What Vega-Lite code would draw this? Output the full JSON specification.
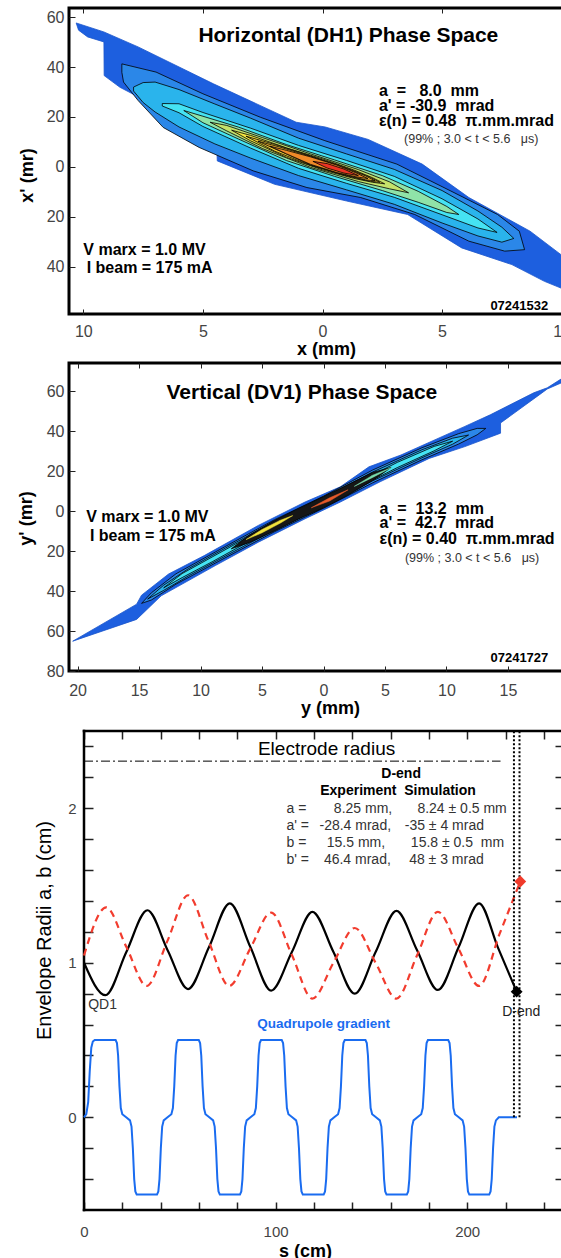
{
"$schema":"https://vega.github.io/schema/vega-lite/v6.json",
"background":"white",
"padding":{"left":15,"top":6,"right":0,"bottom":0},
"config":{"font":"Liberation Sans","axis":{"grid":false,"domain":false,"labelColor":"#444","tickColor":"#222","titleColor":"black"},"view":{"stroke":"black"}},
"datasets":{
"h":[
{"g":"L1","x":-10.3,"y":57.7},{"g":"L1","x":-9.14,"y":54.1},{"g":"L1","x":-7.71,"y":48.1},{"g":"L1","x":-4.56,"y":33.3},{"g":"L1","x":-1.1,"y":17.9},{"g":"L1","x":0.11,"y":16.0},{"g":"L1","x":1.91,"y":11.0},{"g":"L1","x":4.17,"y":1.1},{"g":"L1","x":6.12,"y":-12.3},{"g":"L1","x":8.68,"y":-25.8},{"g":"L1","x":10.15,"y":-36.5},{"g":"L1","x":10.8,"y":-40},{"g":"L1","x":10.8,"y":-52},{"g":"L1","x":10.15,"y":-49.3},{"g":"L1","x":9.28,"y":-45.9},{"g":"L1","x":7.92,"y":-39.2},{"g":"L1","x":5.82,"y":-32.5},{"g":"L1","x":3.56,"y":-19.1},{"g":"L1","x":1.01,"y":-13.7},{"g":"L1","x":-2.0,"y":-7.0},{"g":"L1","x":-4.4,"y":2.4},{"g":"L1","x":-4.41,"y":5.1},{"g":"L1","x":-6.06,"y":15.8},{"g":"L1","x":-7.41,"y":26.6},{"g":"L1","x":-8.47,"y":31.9},{"g":"L1","x":-9.13,"y":36.6},{"g":"L1","x":-9.14,"y":50.1},{"g":"L1","x":-9.82,"y":52.1},{"g":"L1","x":-10.2,"y":54.8},{"g":"L1","x":-10.3,"y":57.7},
{"g":"L2","x":-8.39,"y":41.3},{"g":"L2","x":-6.96,"y":38.0},{"g":"L2","x":-5.0,"y":29.3},{"g":"L2","x":-2.6,"y":19.9},{"g":"L2","x":0.1,"y":10.5},{"g":"L2","x":3.11,"y":1.1},{"g":"L2","x":5.37,"y":-9.7},{"g":"L2","x":7.32,"y":-19.1},{"g":"L2","x":8.23,"y":-25.8},{"g":"L2","x":8.45,"y":-33.2},{"g":"L2","x":7.62,"y":-33.8},{"g":"L2","x":6.12,"y":-29.8},{"g":"L2","x":3.86,"y":-19.1},{"g":"L2","x":1.6,"y":-12.3},{"g":"L2","x":-0.65,"y":-8.3},{"g":"L2","x":-2.9,"y":-1.6},{"g":"L2","x":-5.16,"y":7.8},{"g":"L2","x":-6.66,"y":15.8},{"g":"L2","x":-7.71,"y":26.6},{"g":"L2","x":-8.32,"y":34.0},{"g":"L2","x":-8.39,"y":37.9},{"g":"L2","x":-8.39,"y":41.3},
{"g":"L3","x":-7.9,"y":32.0},{"g":"L3","x":-7.5,"y":33.8},{"g":"L3","x":-7,"y":34},{"g":"L3","x":-6,"y":31},{"g":"L3","x":-4.5,"y":25.2},{"g":"L3","x":-3,"y":19.5},{"g":"L3","x":-1,"y":11.5},{"g":"L3","x":1,"y":5.2},{"g":"L3","x":3,"y":-1},{"g":"L3","x":5,"y":-9.5},{"g":"L3","x":6.5,"y":-17.7},{"g":"L3","x":7.5,"y":-24.2},{"g":"L3","x":8,"y":-28.7},{"g":"L3","x":7.5,"y":-30.2},{"g":"L3","x":6.5,"y":-27.7},{"g":"L3","x":5,"y":-22.5},{"g":"L3","x":3,"y":-15},{"g":"L3","x":1,"y":-9.2},{"g":"L3","x":-1,"y":-3.5},{"g":"L3","x":-3,"y":3.5},{"g":"L3","x":-4.5,"y":9.2},{"g":"L3","x":-6,"y":16},{"g":"L3","x":-7,"y":22},{"g":"L3","x":-7.5,"y":25.8},{"g":"L3","x":-7.9,"y":30.4},{"g":"L3","x":-7.9,"y":32.0},
{"g":"L4","x":-6.7,"y":25.4},{"g":"L4","x":-6,"y":25.3},{"g":"L4","x":-5,"y":21.8},{"g":"L4","x":-3,"y":15.5},{"g":"L4","x":-1,"y":8.6},{"g":"L4","x":1,"y":2.6},{"g":"L4","x":3,"y":-3.8},{"g":"L4","x":5,"y":-12.8},{"g":"L4","x":6.5,"y":-20.9},{"g":"L4","x":7.3,"y":-26.3},{"g":"L4","x":6.5,"y":-24.5},{"g":"L4","x":5,"y":-19.2},{"g":"L4","x":3,"y":-12.2},{"g":"L4","x":1,"y":-6.6},{"g":"L4","x":-1,"y":-0.6},{"g":"L4","x":-3,"y":7.5},{"g":"L4","x":-5,"y":16.2},{"g":"L4","x":-6,"y":21.7},{"g":"L4","x":-6.7,"y":24.4},{"g":"L4","x":-6.7,"y":25.4},
{"g":"L5","x":-5.8,"y":22.6},{"g":"L5","x":-5,"y":20.3},{"g":"L5","x":-3.5,"y":15.9},{"g":"L5","x":-1.5,"y":8.9},{"g":"L5","x":0.5,"y":2.8},{"g":"L5","x":2.5,"y":-3.5},{"g":"L5","x":4,"y":-9.8},{"g":"L5","x":5.2,"y":-15.9},{"g":"L5","x":5.7,"y":-19.1},{"g":"L5","x":5.2,"y":-18.3},{"g":"L5","x":4,"y":-14.2},{"g":"L5","x":2.5,"y":-9.5},{"g":"L5","x":0.5,"y":-3.8},{"g":"L5","x":-1.5,"y":2.5},{"g":"L5","x":-3.5,"y":11.1},{"g":"L5","x":-5,"y":17.7},{"g":"L5","x":-5.8,"y":22.6},
{"g":"L6","x":-4.7,"y":17.9},{"g":"L6","x":-4,"y":16.6},{"g":"L6","x":-2.5,"y":11.7},{"g":"L6","x":-0.5,"y":5.2},{"g":"L6","x":1.5,"y":-1.1},{"g":"L6","x":2.8,"y":-6.0},{"g":"L6","x":3.6,"y":-10.4},{"g":"L6","x":2.8,"y":-8.8},{"g":"L6","x":1.5,"y":-5.9},{"g":"L6","x":-0.5,"y":-0.2},{"g":"L6","x":-2.5,"y":7.3},{"g":"L6","x":-4,"y":14.4},{"g":"L6","x":-4.7,"y":17.9},
{"g":"L7","x":-3.8,"y":14.7},{"g":"L7","x":-3,"y":12.6},{"g":"L7","x":-1.5,"y":7.6},{"g":"L7","x":0,"y":3.2},{"g":"L7","x":1.3,"y":-1.2},{"g":"L7","x":2.1,"y":-4.4},{"g":"L7","x":2.6,"y":-6.8},{"g":"L7","x":2.1,"y":-6.2},{"g":"L7","x":1.3,"y":-4.6},{"g":"L7","x":0,"y":-1.2},{"g":"L7","x":-1.5,"y":3.8},{"g":"L7","x":-3,"y":10.4},{"g":"L7","x":-3.8,"y":14.7},
{"g":"L7b","x":-3.2,"y":12.3},{"g":"L7b","x":-2,"y":9.0},{"g":"L7b","x":-0.5,"y":4.4},{"g":"L7b","x":1,"y":-0.4},{"g":"L7b","x":2.0,"y":-4.2},{"g":"L7b","x":2.4,"y":-6.2},{"g":"L7b","x":2.0,"y":-5.8},{"g":"L7b","x":1,"y":-3.6},{"g":"L7b","x":-0.5,"y":0.6},{"g":"L7b","x":-2,"y":6.3},{"g":"L7b","x":-3.2,"y":12.3},
{"g":"L7c","x":-2.7,"y":10.3},{"g":"L7c","x":-1.8,"y":8.0},{"g":"L7c","x":-0.5,"y":4.2},{"g":"L7c","x":0.8,"y":0.1},{"g":"L7c","x":1.8,"y":-3.6},{"g":"L7c","x":2.2,"y":-5.6},{"g":"L7c","x":1.8,"y":-5.2},{"g":"L7c","x":0.8,"y":-2.9},{"g":"L7c","x":-0.5,"y":0.8},{"g":"L7c","x":-1.8,"y":6.4},{"g":"L7c","x":-2.7,"y":10.3},
{"g":"L8","x":-2.2,"y":8.3},{"g":"L8","x":-1.5,"y":6.6},{"g":"L8","x":-0.5,"y":4.0},{"g":"L8","x":0.6,"y":0.7},{"g":"L8","x":1.4,"y":-2.4},{"g":"L8","x":1.9,"y":-4.7},{"g":"L8","x":1.4,"y":-4.0},{"g":"L8","x":0.6,"y":-2.3},{"g":"L8","x":-0.5,"y":1.0},{"g":"L8","x":-1.5,"y":5.2},{"g":"L8","x":-2.2,"y":8.3},
{"g":"L9","x":-0.4,"y":2.2},{"g":"L9","x":0.2,"y":1.3},{"g":"L9","x":0.9,"y":-0.9},{"g":"L9","x":1.5,"y":-3.5},{"g":"L9","x":0.9,"y":-2.5},{"g":"L9","x":0.2,"y":-0.5},{"g":"L9","x":-0.4,"y":2.2}
],
"v":[
{"g":"L1","x":-20.4,"y":-65.1},{"g":"L1","x":-15.2,"y":-46.6},{"g":"L1","x":-14.8,"y":-42.1},{"g":"L1","x":-12.6,"y":-31.5},{"g":"L1","x":-9.7,"y":-22.3},{"g":"L1","x":-5.3,"y":-7.2},{"g":"L1","x":-1.5,"y":4.5},{"g":"L1","x":1.37,"y":12.1},{"g":"L1","x":3.7,"y":22.1},{"g":"L1","x":6.3,"y":28},{"g":"L1","x":11.5,"y":42.3},{"g":"L1","x":13.6,"y":48.2},{"g":"L1","x":17.1,"y":59.1},{"g":"L1","x":18.2,"y":61.6},{"g":"L1","x":21,"y":72.5},{"g":"L1","x":21,"y":68.5},{"g":"L1","x":18.2,"y":61.0},{"g":"L1","x":17.6,"y":58.3},{"g":"L1","x":14.4,"y":44},{"g":"L1","x":14.4,"y":38.9},{"g":"L1","x":11.5,"y":32.2},{"g":"L1","x":8.6,"y":26.3},{"g":"L1","x":4.6,"y":14.6},{"g":"L1","x":1.37,"y":4.5},{"g":"L1","x":-1.5,"y":-3.9},{"g":"L1","x":-5.3,"y":-15.6},{"g":"L1","x":-8.8,"y":-27.3},{"g":"L1","x":-13.2,"y":-42.4},{"g":"L1","x":-15.2,"y":-54.2},{"g":"L1","x":-20.4,"y":-65.1},
{"g":"L2","x":-14.8,"y":-46.2},{"g":"L2","x":-14,"y":-40.9},{"g":"L2","x":-12,"y":-31.4},{"g":"L2","x":-8,"y":-17.8},{"g":"L2","x":-4,"y":-4.4},{"g":"L2","x":0,"y":7.4},{"g":"L2","x":4,"y":20.5},{"g":"L2","x":8,"y":31.6},{"g":"L2","x":11,"y":38.7},{"g":"L2","x":12.5,"y":41.3},{"g":"L2","x":13.2,"y":41.3},{"g":"L2","x":12.5,"y":38.1},{"g":"L2","x":11,"y":33.5},{"g":"L2","x":8,"y":25.6},{"g":"L2","x":4,"y":14.1},{"g":"L2","x":0,"y":1.4},{"g":"L2","x":-4,"y":-10.4},{"g":"L2","x":-8,"y":-23.4},{"g":"L2","x":-12,"y":-36.6},{"g":"L2","x":-14,"y":-44.5},{"g":"L2","x":-14.8,"y":-46.2},
{"g":"L3","x":-14.3,"y":-44},{"g":"L3","x":-13,"y":-37.1},{"g":"L3","x":-11,"y":-28.9},{"g":"L3","x":-8,"y":-18.6},{"g":"L3","x":-4,"y":-5.3},{"g":"L3","x":0,"y":6.5},{"g":"L3","x":4,"y":19.5},{"g":"L3","x":8,"y":30.6},{"g":"L3","x":10.5,"y":36.4},{"g":"L3","x":11.8,"y":38.0},{"g":"L3","x":10.5,"y":33.4},{"g":"L3","x":8,"y":26.6},{"g":"L3","x":4,"y":15.1},{"g":"L3","x":0,"y":2.3},{"g":"L3","x":-4,"y":-9.5},{"g":"L3","x":-8,"y":-22.6},{"g":"L3","x":-11,"y":-32.5},{"g":"L3","x":-13,"y":-39.7},{"g":"L3","x":-14.3,"y":-44},
{"g":"L4","x":-13,"y":-38.4},{"g":"L4","x":-11.5,"y":-31.3},{"g":"L4","x":-9,"y":-22.8},{"g":"L4","x":-6,"y":-12.6},{"g":"L4","x":-2,"y":0.0},{"g":"L4","x":2,"y":11.8},{"g":"L4","x":6,"y":24.3},{"g":"L4","x":9,"y":32.3},{"g":"L4","x":10.5,"y":34.9},{"g":"L4","x":9,"y":30.1},{"g":"L4","x":6,"y":21.7},{"g":"L4","x":2,"y":9.4},{"g":"L4","x":-2,"y":-2.4},{"g":"L4","x":-6,"y":-15.0},{"g":"L4","x":-9,"y":-25.2},{"g":"L4","x":-11.5,"y":-33.3},{"g":"L4","x":-13,"y":-38.4},
{"g":"D","x":-7.5,"y":-18.9},{"g":"D","x":-6,"y":-11.9},{"g":"D","x":-4,"y":-4.8},{"g":"D","x":-2,"y":1.3},{"g":"D","x":0,"y":7.2},{"g":"D","x":2,"y":13.2},{"g":"D","x":4,"y":19.3},{"g":"D","x":5.5,"y":21.8},{"g":"D","x":4,"y":15.3},{"g":"D","x":2,"y":8.0},{"g":"D","x":0,"y":1.6},{"g":"D","x":-2,"y":-3.9},{"g":"D","x":-4,"y":-10.0},{"g":"D","x":-6,"y":-15.7},{"g":"D","x":-7.5,"y":-18.9},
{"g":"Y","x":-6.3,"y":-14.3},{"g":"Y","x":-5,"y":-9.3},{"g":"Y","x":-3.5,"y":-4.6},{"g":"Y","x":-2.5,"y":-2.3},{"g":"Y","x":-3.5,"y":-6.0},{"g":"Y","x":-5,"y":-10.9},{"g":"Y","x":-6.3,"y":-14.3},
{"g":"O","x":-1,"y":1.6},{"g":"O","x":0.5,"y":6.6},{"g":"O","x":2,"y":10.6},{"g":"O","x":0.5,"y":5.0},{"g":"O","x":-1,"y":1.6},
{"g":"G","x":2.5,"y":12.3},{"g":"G","x":4,"y":17.9},{"g":"G","x":5.5,"y":21.6},{"g":"G","x":4,"y":16.8},{"g":"G","x":2.5,"y":12.3}
],
"qa":[{"s":0,"v":1.0},{"s":11.2,"v":0.79},{"s":22.1,"v":1.07},{"s":33.1,"v":1.34},{"s":43.7,"v":1.08},{"s":54.3,"v":0.83},{"s":65.2,"v":1.10},{"s":76.1,"v":1.385},{"s":86.9,"v":1.10},{"s":97.7,"v":0.82},{"s":108.5,"v":1.07},{"s":119.2,"v":1.33},{"s":130.2,"v":1.07},{"s":141.3,"v":0.80},{"s":152.2,"v":1.07},{"s":163.1,"v":1.336},{"s":173.9,"v":1.08},{"s":184.7,"v":0.824},{"s":195.5,"v":1.10},{"s":206.2,"v":1.385},{"s":216,"v":1.10},{"s":225.8,"v":0.813}],
"qb":[{"s":0,"v":1.047},{"s":11.6,"v":1.359},{"s":22.2,"v":1.10},{"s":32.7,"v":0.85},{"s":43.5,"v":1.14},{"s":54.3,"v":1.437},{"s":65,"v":1.14},{"s":75.8,"v":0.85},{"s":86.7,"v":1.09},{"s":97.7,"v":1.325},{"s":108.5,"v":1.05},{"s":119.2,"v":0.768},{"s":130.2,"v":1.0},{"s":141.3,"v":1.225},{"s":152.2,"v":1.0},{"s":163.1,"v":0.768},{"s":173.9,"v":1.05},{"s":184.7,"v":1.33},{"s":195.5,"v":1.09},{"s":206.2,"v":0.85},{"s":217,"v":1.19},{"s":227.7,"v":1.526}],
"quad":[{"s":0,"v":0},{"s":1.2,"v":0.02},{"s":2.2,"v":0.1},{"s":3.0,"v":0.3},{"s":3.8,"v":0.45},{"s":4.6,"v":0.49},{"s":5.6,"v":0.5},
{"s":16.5,"v":0.5},{"s":17.2,"v":0.48},{"s":17.8,"v":0.4},{"s":18.5,"v":0.2},{"s":19.2,"v":0.06},{"s":20.0,"v":0.02},{"s":22.0,"v":0},{"s":24.0,"v":-0.02},{"s":24.8,"v":-0.06},{"s":25.5,"v":-0.2},{"s":26.2,"v":-0.4},{"s":26.8,"v":-0.48},{"s":27.5,"v":-0.5},
{"s":38.1,"v":-0.5},{"s":38.8,"v":-0.48},{"s":39.4,"v":-0.4},{"s":40.1,"v":-0.2},{"s":40.8,"v":-0.06},{"s":41.6,"v":-0.02},{"s":43.6,"v":0},{"s":45.6,"v":0.02},{"s":46.4,"v":0.06},{"s":47.1,"v":0.2},{"s":47.8,"v":0.4},{"s":48.4,"v":0.48},{"s":49.1,"v":0.5},
{"s":59.9,"v":0.5},{"s":60.6,"v":0.48},{"s":61.2,"v":0.4},{"s":61.9,"v":0.2},{"s":62.6,"v":0.06},{"s":63.4,"v":0.02},{"s":65.4,"v":0},{"s":67.4,"v":-0.02},{"s":68.2,"v":-0.06},{"s":68.9,"v":-0.2},{"s":69.6,"v":-0.4},{"s":70.2,"v":-0.48},{"s":70.9,"v":-0.5},
{"s":81.4,"v":-0.5},{"s":82.1,"v":-0.48},{"s":82.7,"v":-0.4},{"s":83.4,"v":-0.2},{"s":84.1,"v":-0.06},{"s":84.9,"v":-0.02},{"s":86.9,"v":0},{"s":88.9,"v":0.02},{"s":89.7,"v":0.06},{"s":90.4,"v":0.2},{"s":91.1,"v":0.4},{"s":91.7,"v":0.48},{"s":92.4,"v":0.5},
{"s":103.2,"v":0.5},{"s":103.9,"v":0.48},{"s":104.5,"v":0.4},{"s":105.2,"v":0.2},{"s":105.9,"v":0.06},{"s":106.7,"v":0.02},{"s":108.7,"v":0},{"s":110.7,"v":-0.02},{"s":111.5,"v":-0.06},{"s":112.2,"v":-0.2},{"s":112.9,"v":-0.4},{"s":113.5,"v":-0.48},{"s":114.2,"v":-0.5},
{"s":125.1,"v":-0.5},{"s":125.8,"v":-0.48},{"s":126.4,"v":-0.4},{"s":127.1,"v":-0.2},{"s":127.8,"v":-0.06},{"s":128.6,"v":-0.02},{"s":130.6,"v":0},{"s":132.6,"v":0.02},{"s":133.4,"v":0.06},{"s":134.1,"v":0.2},{"s":134.8,"v":0.4},{"s":135.4,"v":0.48},{"s":136.1,"v":0.5},
{"s":146.9,"v":0.5},{"s":147.6,"v":0.48},{"s":148.2,"v":0.4},{"s":148.9,"v":0.2},{"s":149.6,"v":0.06},{"s":150.4,"v":0.02},{"s":152.4,"v":0},{"s":154.4,"v":-0.02},{"s":155.2,"v":-0.06},{"s":155.9,"v":-0.2},{"s":156.6,"v":-0.4},{"s":157.2,"v":-0.48},{"s":157.9,"v":-0.5},
{"s":168.5,"v":-0.5},{"s":169.2,"v":-0.48},{"s":169.8,"v":-0.4},{"s":170.5,"v":-0.2},{"s":171.2,"v":-0.06},{"s":172.0,"v":-0.02},{"s":174.0,"v":0},{"s":176.0,"v":0.02},{"s":176.8,"v":0.06},{"s":177.5,"v":0.2},{"s":178.2,"v":0.4},{"s":178.8,"v":0.48},{"s":179.5,"v":0.5},
{"s":190.1,"v":0.5},{"s":190.8,"v":0.48},{"s":191.4,"v":0.4},{"s":192.1,"v":0.2},{"s":192.8,"v":0.06},{"s":193.6,"v":0.02},{"s":195.6,"v":0},{"s":197.6,"v":-0.02},{"s":198.4,"v":-0.06},{"s":199.1,"v":-0.2},{"s":199.8,"v":-0.4},{"s":200.4,"v":-0.48},{"s":201.1,"v":-0.5},
{"s":211.5,"v":-0.5},{"s":212.2,"v":-0.48},{"s":212.8,"v":-0.4},{"s":213.5,"v":-0.2},{"s":214.2,"v":-0.06},{"s":215.0,"v":-0.02},{"s":216.5,"v":0},{"s":226.0,"v":0}]
},
"concat":[
{
"width":507,"height":306,
"view":{"stroke":"black","strokeWidth":3},
"encoding":{
"x":{"field":"x","type":"quantitative","scale":{"domain":[-10.6,10.6],"nice":false,"zero":false},"axis":null},
"y":{"field":"y","type":"quantitative","scale":{"domain":[-59,63.7],"nice":false,"zero":false},"axis":null}},
"layer":[
{"data":{"name":"h"},
"encoding":{
"x":{"field":"x","type":"quantitative","scale":{"domain":[-10.6,10.6],"nice":false,"zero":false},"axis":{"orient":"bottom","values":[-10,-5,0,5,10],"tickSize":-5,"tickWidth":1,"labelExpr":"'' + abs(datum.value)","labelFontSize":16,"labelPadding":14,"title":"x (mm)","titleFontSize":18,"titleFontWeight":"bold","titleX":257,"titlePadding":1}},
"y":{"field":"y","type":"quantitative","scale":{"domain":[-59,63.7],"nice":false,"zero":false},"axis":{"orient":"left","values":[-40,-20,0,20,40,60],"tickSize":-6,"tickWidth":1,"labelExpr":"'' + abs(datum.value)","labelFontSize":16,"labelPadding":11,"title":"x' (mr)","titleFontSize":18,"titleFontWeight":"bold","titleX":-42,"titleY":167,"titleBaseline":"middle","titleAngle":270}},
"order":{"value":null}},
"layer":[
{"transform":[{"filter":"datum.g==='L1'"}],"mark":{"type":"line","fill":"#1d5fdf","stroke":"#1a55cc","strokeWidth":0.8,"clip":true}},
{"transform":[{"filter":"datum.g==='L2'"}],"mark":{"type":"line","fill":"#2b87e8","stroke":"#000","strokeWidth":0.8,"clip":true}},
{"transform":[{"filter":"datum.g==='L3'"}],"mark":{"type":"line","fill":"#2ab4ec","stroke":"#000","strokeWidth":0.8,"clip":true}},
{"transform":[{"filter":"datum.g==='L4'"}],"mark":{"type":"line","fill":"#45e3f3","stroke":"#000","strokeWidth":0.8,"clip":true}},
{"transform":[{"filter":"datum.g==='L5'"}],"mark":{"type":"line","fill":"#8fe3a8","stroke":"#000","strokeWidth":0.8,"clip":true}},
{"transform":[{"filter":"datum.g==='L6'"}],"mark":{"type":"line","fill":"#c5e26a","stroke":"#000","strokeWidth":0.8,"clip":true}},
{"transform":[{"filter":"datum.g==='L7'"}],"mark":{"type":"line","fill":"#f4e640","stroke":"#000","strokeWidth":0.8,"clip":true}},
{"transform":[{"filter":"datum.g==='L7b'"}],"mark":{"type":"line","fill":"#f3cf38","stroke":"#000","strokeWidth":0.8,"clip":true}},
{"transform":[{"filter":"datum.g==='L7c'"}],"mark":{"type":"line","fill":"#f0b030","stroke":"#000","strokeWidth":0.8,"clip":true}},
{"transform":[{"filter":"datum.g==='L8'"}],"mark":{"type":"line","fill":"#f08a28","stroke":"#000","strokeWidth":0.8,"clip":true}},
{"transform":[{"filter":"datum.g==='L9'"}],"mark":{"type":"line","fill":"#ec3423","stroke":"#000","strokeWidth":0.8,"clip":true}}
]},
{"data":{"values":[{"x":1.08,"y":50,"t":"Horizontal (DH1) Phase Space"}]},
"mark":{"type":"text","align":"center","baseline":"alphabetic","fontSize":21,"fontWeight":"bold","color":"black"},
"encoding":{"x":{"field":"x","type":"quantitative","scale":{"domain":[-10.6,10.6],"nice":false,"zero":false},"axis":{"orient":"top","values":[-10,-5,0,5,10],"tickSize":-5,"tickWidth":1,"labels":false,"title":null}},"text":{"field":"t"}}},
{"data":{"values":[{"x":2.36,"y":28.3,"t":"a\u00a0\u00a0=\u00a0\u00a0\u00a08.0\u00a0\u00a0mm"},{"x":2.36,"y":22.3,"t":"a'\u00a0=\u00a0-30.9\u00a0\u00a0mrad"},{"x":2.36,"y":16.3,"t":"ε(n)\u00a0=\u00a00.48\u00a0\u00a0π.mm.mrad"},{"x":-10.0,"y":-35.2,"t":"V marx = 1.0 MV"},{"x":-9.86,"y":-42.6,"t":"I beam = 175 mA"}]},
"mark":{"type":"text","align":"left","baseline":"alphabetic","fontSize":16,"fontWeight":"bold","color":"black"},
"encoding":{"text":{"field":"t"}}},
{"data":{"values":[{"x":3.41,"y":9.6,"t":"(99%\u00a0;\u00a03.0\u00a0<\u00a0t\u00a0<\u00a05.6\u00a0\u00a0\u00a0μs)"}]},
"mark":{"type":"text","align":"left","baseline":"alphabetic","fontSize":12.5,"color":"#333"},
"encoding":{"text":{"field":"t"}}},
{"data":{"values":[{"x":7.02,"y":-57.3,"t":"07241532"}]},
"mark":{"type":"text","align":"left","baseline":"alphabetic","fontSize":13,"fontWeight":"bold","color":"black"},
"encoding":{"text":{"field":"t"}}}
],
"resolve":{"axis":{"x":"independent","y":"independent"}}
},
{
"width":509,"height":308,
"view":{"stroke":"black","strokeWidth":3},
"encoding":{
"x":{"field":"x","type":"quantitative","scale":{"domain":[-20.7,20.7],"nice":false,"zero":false},"axis":null},
"y":{"field":"y","type":"quantitative","scale":{"domain":[-80,74],"nice":false,"zero":false},"axis":null}},
"layer":[
{"data":{"name":"v"},
"encoding":{
"x":{"field":"x","type":"quantitative","scale":{"domain":[-20.7,20.7],"nice":false,"zero":false},"axis":{"orient":"bottom","values":[-20,-15,-10,-5,0,5,10,15],"tickSize":-5,"tickWidth":1,"labelExpr":"'' + abs(datum.value)","labelFontSize":16,"labelPadding":16,"title":"y (mm)","titleFontSize":18,"titleFontWeight":"bold","titleX":261,"titlePadding":1}},
"y":{"field":"y","type":"quantitative","scale":{"domain":[-80,74],"nice":false,"zero":false},"axis":{"orient":"left","values":[-80,-60,-40,-20,0,20,40,60],"tickSize":-6,"tickWidth":1,"labelExpr":"'' + abs(datum.value)","labelFontSize":16,"labelPadding":11,"title":"y' (mr)","titleFontSize":18,"titleFontWeight":"bold","titleX":-43,"titleY":155,"titleBaseline":"middle","titleAngle":270}},
"order":{"value":null}},
"layer":[
{"transform":[{"filter":"datum.g==='L1'"}],"mark":{"type":"line","fill":"#1d5fdf","stroke":"#1a55cc","strokeWidth":0.8,"clip":true}},
{"transform":[{"filter":"datum.g==='L2'"}],"mark":{"type":"line","fill":"#2b87e8","stroke":"#000","strokeWidth":0.8,"clip":true}},
{"transform":[{"filter":"datum.g==='L3'"}],"mark":{"type":"line","fill":"#2ab4ec","stroke":"#000","strokeWidth":0.8,"clip":true}},
{"transform":[{"filter":"datum.g==='L4'"}],"mark":{"type":"line","fill":"#45e3f3","stroke":"#000","strokeWidth":0.8,"clip":true}},
{"transform":[{"filter":"datum.g==='D'"}],"mark":{"type":"line","fill":"#161616","stroke":"#000","strokeWidth":0.8,"clip":true}},
{"transform":[{"filter":"datum.g==='Y'"}],"mark":{"type":"line","fill":"#f2e23c","stroke":"#f2e23c","strokeWidth":0.5,"clip":true}},
{"transform":[{"filter":"datum.g==='O'"}],"mark":{"type":"line","fill":"#e85a2a","stroke":"#e85a2a","strokeWidth":0.5,"clip":true}},
{"transform":[{"filter":"datum.g==='G'"}],"mark":{"type":"line","fill":"#7ae0b0","stroke":"#7ae0b0","strokeWidth":0.5,"clip":true}}
]},
{"data":{"values":[{"x":-1.76,"y":56.2,"t":"Vertical (DV1) Phase Space"}]},
"mark":{"type":"text","align":"center","baseline":"alphabetic","fontSize":21,"fontWeight":"bold","color":"black"},
"encoding":{"x":{"field":"x","type":"quantitative","scale":{"domain":[-20.7,20.7],"nice":false,"zero":false},"axis":{"orient":"top","values":[-20,-15,-10,-5,0,5,10,15],"tickSize":-5,"tickWidth":1,"labels":false,"title":null}},"text":{"field":"t"}}},
{"data":{"values":[{"x":4.56,"y":-1.3,"t":"a\u00a0\u00a0=\u00a0\u00a013.2\u00a0\u00a0mm"},{"x":4.56,"y":-8.3,"t":"a'\u00a0=\u00a0\u00a042.7\u00a0\u00a0mrad"},{"x":4.56,"y":-16.3,"t":"ε(n)\u00a0=\u00a00.40\u00a0\u00a0π.mm.mrad"},{"x":-19.3,"y":-5.5,"t":"V marx = 1.0 MV"},{"x":-19.0,"y":-15.1,"t":"I beam = 175 mA"}]},
"mark":{"type":"text","align":"left","baseline":"alphabetic","fontSize":16,"fontWeight":"bold","color":"black"},
"encoding":{"text":{"field":"t"}}},
{"data":{"values":[{"x":6.62,"y":-25.4,"t":"(99%\u00a0;\u00a03.0\u00a0<\u00a0t\u00a0<\u00a05.6\u00a0\u00a0\u00a0μs)"}]},
"mark":{"type":"text","align":"left","baseline":"alphabetic","fontSize":12.5,"color":"#333"},
"encoding":{"text":{"field":"t"}}},
{"data":{"values":[{"x":13.58,"y":-75.7,"t":"07241727"}]},
"mark":{"type":"text","align":"left","baseline":"alphabetic","fontSize":13,"fontWeight":"bold","color":"black"},
"encoding":{"text":{"field":"t"}}}
],
"resolve":{"axis":{"x":"independent","y":"independent"}}
},
{
"width":494,"height":479,
"view":{"stroke":null},
"encoding":{
"x":{"field":"s","type":"quantitative","scale":{"domain":[-7.83,250],"nice":false,"zero":false},"axis":null},
"y":{"field":"v","type":"quantitative","scale":{"domain":[-0.6,2.5],"nice":false,"zero":false},"axis":null}},
"layer":[
{"data":{"values":[{"s":0,"s2":217.4,"v":2.305}]},
"mark":{"type":"rule","color":"black","strokeWidth":1,"strokeDash":[9,3,2,3]},
"encoding":{
"x":{"field":"s","type":"quantitative","scale":{"domain":[-7.83,250],"nice":false,"zero":false},"axis":{"orient":"bottom","values":[0,20,40,60,80,100,120,140,160,180,200,220,240],"tickSize":-8,"tickWidth":1.5,"labelExpr":"datum.value % 100 === 0 ? datum.label : ''","labelFontSize":15,"labelPadding":22,"title":"s (cm)","titleFontSize":18,"titleFontWeight":"bold","titleX":236,"titlePadding":3}},
"x2":{"field":"s2"},
"y":{"field":"v","type":"quantitative","scale":{"domain":[-0.6,2.5],"nice":false,"zero":false},"axis":{"orient":"left","offset":-15,"values":[-0.4,-0.2,0,0.2,0.4,0.6,0.8,1,1.2,1.4,1.6,1.8,2,2.2,2.4],"tickSize":-9,"tickWidth":1.5,"labelExpr":"abs(datum.value - round(datum.value)) < 0.001 ? '' + round(datum.value) : ''","labelFontSize":15,"labelPadding":17,"title":"Envelope Radii a, b (cm)","titleFontSize":20,"titleFontWeight":"normal","titleX":-40,"titleY":199,"titleBaseline":"middle","titleAngle":270}}}},
{"data":{"values":[{"s":0,"s2":0,"v":-0.6,"v2":2.5},{"s":250,"s2":250,"v":-0.6,"v2":2.5},{"s":0,"s2":250,"v":-0.6,"v2":-0.6},{"s":0,"s2":250,"v":2.5,"v2":2.5}]},
"mark":{"type":"rule","color":"black","strokeWidth":2.5,"strokeCap":"square"},
"encoding":{"x2":{"field":"s2"},"y2":{"field":"v2"}}},
{"data":{"name":"quad"},
"mark":{"type":"line","color":"#1a6cf0","strokeWidth":2},
"encoding":{
"x":{"field":"s","type":"quantitative","scale":{"domain":[-7.83,250],"nice":false,"zero":false},"axis":{"orient":"top","values":[0,20,40,60,80,100,120,140,160,180,200,220,240],"tickSize":-8,"tickWidth":1.5,"labels":false,"title":"\u00a0","titleFontSize":10,"titlePadding":0}},
"y":{"field":"v","type":"quantitative","scale":{"domain":[-0.6,2.5],"nice":false,"zero":false},"axis":{"orient":"right","values":[-0.4,-0.2,0,0.2,0.4,0.6,0.8,1,1.2,1.4,1.6,1.8,2,2.2,2.4],"tickSize":-8,"tickWidth":1.5,"labels":false,"title":null}}}},
{"data":{"name":"qa"},"mark":{"type":"line","color":"black","strokeWidth":2.2,"interpolate":"monotone"},"encoding":{}},
{"data":{"name":"qb"},"mark":{"type":"line","color":"#f23c2e","strokeWidth":2.2,"strokeDash":[7,5],"interpolate":"monotone"},"encoding":{}},
{"data":{"values":[{"s":224.4,"v":0,"v2":2.5},{"s":227.3,"v":0,"v2":2.5}]},
"mark":{"type":"rule","color":"black","strokeWidth":2,"strokeDash":[2,2]},
"encoding":{"y2":{"field":"v2"}}},
{"data":{"values":[{"s":225.8,"v":0.813,"c":"k"},{"s":227.7,"v":1.526,"c":"r"}]},
"mark":{"type":"point","shape":"diamond","filled":true,"size":140,"opacity":1},
"encoding":{"color":{"field":"c","type":"nominal","scale":{"domain":["k","r"],"range":["#000000","#f03a2a"]},"legend":null}}},
{"data":{"values":[{"s":126.6,"v":2.343,"t":"Electrode radius"}]},
"mark":{"type":"text","align":"center","baseline":"alphabetic","fontSize":19,"color":"black"},
"encoding":{"text":{"field":"t"}}},
{"data":{"values":[{"s":165.5,"v":2.194,"t":"D-end"},{"s":163.9,"v":2.089,"t":"Experiment\u00a0\u00a0Simulation"}]},
"mark":{"type":"text","align":"center","baseline":"alphabetic","fontSize":14,"fontWeight":"bold","color":"black"},
"encoding":{"text":{"field":"t"}}},
{"data":{"values":[
{"s":105.7,"v":1.967,"t":"a ="},{"s":130.4,"v":1.967,"t":"8.25 mm,"},{"s":174,"v":1.967,"t":"8.24 ± 0.5 mm"},
{"s":105.7,"v":1.857,"t":"a' ="},{"s":122.9,"v":1.857,"t":"-28.4 mrad,"},{"s":167.4,"v":1.857,"t":"-35 ± 4 mrad"},
{"s":105.7,"v":1.747,"t":"b ="},{"s":126.7,"v":1.747,"t":"15.5 mm,"},{"s":170.6,"v":1.747,"t":"15.8 ± 0.5\u00a0\u00a0mm"},
{"s":105.7,"v":1.638,"t":"b' ="},{"s":125.2,"v":1.638,"t":"46.4 mrad,"},{"s":169.7,"v":1.638,"t":"48 ± 3 mrad"},
{"s":2.2,"v":0.70,"t":"QD1"}]},
"mark":{"type":"text","align":"left","baseline":"alphabetic","fontSize":14,"color":"#333"},
"encoding":{"text":{"field":"t"}}},
{"data":{"values":[{"s":228.2,"v":0.657,"t":"D-end"}]},
"mark":{"type":"text","align":"center","baseline":"alphabetic","fontSize":14,"color":"#222"},
"encoding":{"text":{"field":"t"}}},
{"data":{"values":[{"s":125.1,"v":0.579,"t":"Quadrupole gradient"}]},
"mark":{"type":"text","align":"center","baseline":"alphabetic","fontSize":13.5,"fontWeight":"bold","color":"#1a6cf0"},
"encoding":{"text":{"field":"t"}}}
],
"resolve":{"axis":{"x":"independent","y":"independent"}}
}
],
"columns":1,
"align":"none",
"spacing":1
}
